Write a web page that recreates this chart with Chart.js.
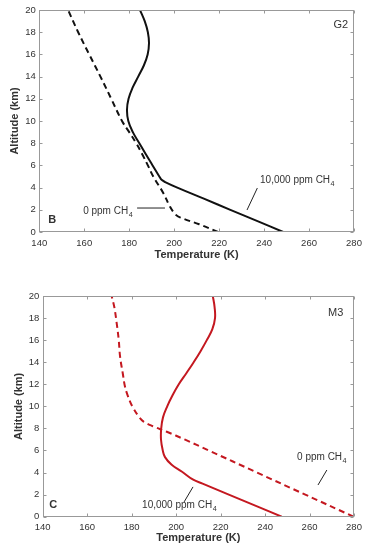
<!DOCTYPE html>
<html>
<head>
<meta charset="utf-8">
<script src="https://cdn.jsdelivr.net/npm/chart.js@4.4.0/dist/chart.umd.min.js"></script>
<style>
  html, body { margin: 0; padding: 0; background: #fff; overflow: hidden; }
  #wrap { position: relative; width: 370px; height: 550px; }
  canvas { position: absolute; left: 0; }
</style>
</head>
<body>
<div id="wrap">
  <canvas id="g2" width="370" height="270" style="top:0"></canvas>
  <canvas id="m3" width="370" height="280" style="top:270px"></canvas>
</div>
<script>
// panel B (G2): altitude in km, temperature in K
var g2AltSolid = [0, 1, 2, 3, 4, 4.5, 4.7, 5, 6, 7, 8, 9, 10, 11, 12, 13, 14, 15, 16, 17, 18, 19, 20];
var g2Temp10000 = [248.5, 236.8, 225, 213.2, 201.4, 196, 194.4, 193.4, 190.4, 187.4, 184.5, 181.6, 179.6, 179.0, 179.7, 181.5, 184.0, 186.5, 188.2, 188.8, 188.3, 186.9, 184.8];
var g2AltDashed = [0, 0.7, 1.3, 1.6, 2.3, 3.5, 5, 6, 7, 8, 9, 10, 12, 14, 16, 18, 20];
var g2Temp0 = [219.5, 211.1, 202.8, 200.5, 198.1, 195.2, 190.7, 188.3, 185.8, 183.1, 180.0, 176.8, 172.0, 167.2, 162.2, 157.3, 152.8];

// panel C (M3)
var m3AltSolid = [0, 1, 2, 3, 3.35, 4.1, 4.7, 5.4, 6, 7, 8, 9, 10, 11, 12, 13, 14, 15, 16, 17, 18, 19, 20];
var m3Temp10000 = [247.5, 235.6, 223.7, 211.9, 207.7, 202.5, 198, 195, 194, 193.2, 193.3, 194.1, 196, 198.4, 201.2, 204.6, 207.9, 211, 213.8, 216.3, 217.5, 217.3, 216.5];
var m3AltDashed = [0, 2, 4, 6, 7, 7.7, 8.2, 8.6, 9, 10, 11, 11.8, 13, 14.5, 16, 17.5, 19, 20];
var m3Temp0 = [279.8, 258.1, 236.4, 214.7, 203.8, 195.8, 189.5, 185.5, 183.5, 180.3, 178.2, 177, 176, 174.8, 174.2, 173.3, 172.2, 171];

var tempTicks = { min: 140, max: 280, step: 20 };
var altTicks = { min: 0, max: 20, step: 2 };

var FONT = "'Liberation Sans', Arial, sans-serif";
var TEXT = '#333333';
var AXIS = '#999999';

function zip(alts, temps) {
  return alts.map(function(a, i) { return { x: temps[i], y: a }; });
}

// box round the plot plus inward tick marks on all 4 sides
var frame = {
  id: 'frame',
  afterDatasetsDraw: function(chart) {
    var ctx = chart.ctx, a = chart.chartArea, x = chart.scales.x, y = chart.scales.y;
    var l = Math.round(a.left) + 0.5, r = Math.round(a.right) - 0.5;
    var t = Math.round(a.top) + 0.5, b = Math.round(a.bottom) - 0.5;
    ctx.save();
    ctx.strokeStyle = AXIS;
    ctx.lineWidth = 1;
    ctx.strokeRect(l, t, r - l, b - t);
    ctx.beginPath();
    x.ticks.forEach(function(tk) {
      var px = Math.round(x.getPixelForValue(tk.value)) + 0.5;
      ctx.moveTo(px, b); ctx.lineTo(px, b - 3);
      ctx.moveTo(px, t); ctx.lineTo(px, t + 3);
    });
    y.ticks.forEach(function(tk) {
      var py = Math.round(y.getPixelForValue(tk.value)) + 0.5;
      ctx.moveTo(l, py); ctx.lineTo(l + 3, py);
      ctx.moveTo(r, py); ctx.lineTo(r - 3, py);
    });
    ctx.stroke();
    ctx.restore();
  }
};

// labels in the plot, placed in data units
var notes = {
  id: 'notes',
  afterDatasetsDraw: function(chart, args, opts) {
    var ctx = chart.ctx, x = chart.scales.x, y = chart.scales.y;
    ctx.save();
    ctx.fillStyle = TEXT;
    ctx.textBaseline = 'middle';
    ctx.textAlign = 'left';
    (opts.texts || []).forEach(function(n) {
      var px = x.getPixelForValue(n.t), py = y.getPixelForValue(n.alt);
      ctx.font = (n.bold ? 'bold ' : '') + n.size + 'px ' + FONT;
      ctx.fillText(n.text, px, py);
      if (n.sub) {
        var w = ctx.measureText(n.text).width;
        ctx.font = (n.size * 0.72) + 'px ' + FONT;
        ctx.fillText(n.sub, px + w + 0.5, py + 4);
      }
    });
    ctx.strokeStyle = '#222';
    ctx.lineWidth = 1;
    (opts.leaders || []).forEach(function(s) {
      ctx.beginPath();
      ctx.moveTo(x.getPixelForValue(s[0]), y.getPixelForValue(s[1]));
      ctx.lineTo(x.getPixelForValue(s[2]), y.getPixelForValue(s[3]));
      ctx.stroke();
    });
    ctx.restore();
  }
};

function makeChart(id, g) {
  var tickFont = { family: FONT, size: 9.5 };
  return new Chart(document.getElementById(id), {
    type: 'scatter',
    data: {
      datasets: [
        { data: zip(g.altSolid, g.tempSolid), borderColor: g.color, borderWidth: 2, showLine: true, pointRadius: 0, tension: 0.4 },
        { data: zip(g.altDashed, g.tempDashed), borderColor: g.color, borderWidth: 2, borderDash: [6, 4], showLine: true, pointRadius: 0, tension: 0.4 }
      ]
    },
    options: {
      responsive: false,
      animation: false,
      devicePixelRatio: 1,
      layout: { padding: { top: g.top, right: 16, left: g.left, bottom: 0 } },
      plugins: {
        legend: { display: false },
        tooltip: { enabled: false },
        notes: { texts: g.texts, leaders: g.leaders }
      },
      scales: {
        x: {
          type: 'linear',
          min: tempTicks.min, max: tempTicks.max,
          ticks: { stepSize: tempTicks.step, padding: g.xTickPad, font: tickFont, color: TEXT, maxRotation: 0 },
          grid: { display: false, drawTicks: false },
          border: { display: false },
          title: { display: true, text: 'Temperature (K)', color: TEXT,
            font: { family: FONT, size: 11, weight: 'bold' }, padding: { top: 0, bottom: g.xTitlePad } },
          afterFit: function(s) { s.height = g.xHeight; }
        },
        y: {
          type: 'linear',
          min: altTicks.min, max: altTicks.max,
          ticks: { stepSize: altTicks.step, padding: 3.5, font: tickFont, color: TEXT },
          grid: { display: false, drawTicks: false },
          border: { display: false },
          title: { display: true, text: 'Altitude (km)', color: TEXT,
            font: { family: FONT, size: 11, weight: 'bold' }, padding: { top: g.yTitlePad, bottom: 0 } },
          afterFit: function(s) { s.width = g.yWidth; }
        }
      }
    },
    plugins: [frame, notes]
  });
}

makeChart('g2', {
  altSolid: g2AltSolid, tempSolid: g2Temp10000,
  altDashed: g2AltDashed, tempDashed: g2Temp0,
  color: '#111111',
  top: 10, left: 0, yWidth: 39.3, yTitlePad: 8.4,
  xHeight: 38, xTickPad: 6, xTitlePad: 8.5,
  texts: [
    { text: '10,000 ppm CH', sub: '4', t: 238.2, alt: 4.7, size: 10 },
    { text: '0 ppm CH', sub: '4', t: 159.5, alt: 1.85, size: 10 },
    { text: 'B', t: 144, alt: 1.08, size: 11, bold: true },
    { text: 'G2', t: 270.9, alt: 18.65, size: 11 }
  ],
  leaders: [[237, 3.96, 232.4, 1.98], [183.5, 2.16, 195.9, 2.16]]
});

makeChart('m3', {
  altSolid: m3AltSolid, tempSolid: m3Temp10000,
  altDashed: m3AltDashed, tempDashed: m3Temp0,
  color: '#c41820',
  top: 26, left: 4, yWidth: 38.7, yTitlePad: 8.7,
  xHeight: 33.3, xTickPad: 5, xTitlePad: 5,
  texts: [
    { text: '0 ppm CH', sub: '4', t: 254.4, alt: 5.4, size: 10 },
    { text: '10,000 ppm CH', sub: '4', t: 184.7, alt: 1.06, size: 10 },
    { text: 'C', t: 143, alt: 1.06, size: 11, bold: true },
    { text: 'M3', t: 268.3, alt: 18.5, size: 11 }
  ],
  leaders: [[267.8, 4.23, 263.8, 2.87], [207.6, 2.7, 203.6, 1.34]]
});
</script>
</body>
</html>
